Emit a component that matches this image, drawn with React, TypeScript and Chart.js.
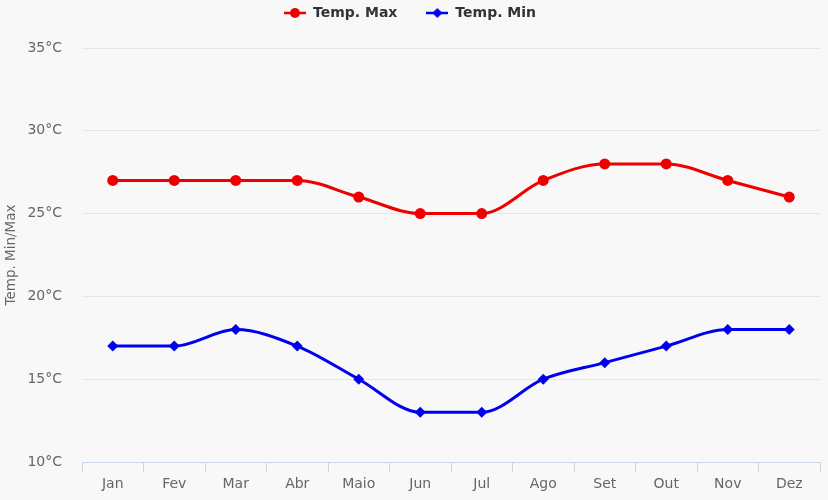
import React, { useEffect, useRef } from "react";
import { Chart, registerables } from "chart.js";

Chart.register(...registerables);

const months = ["Jan", "Fev", "Mar", "Abr", "Maio", "Jun", "Jul", "Ago", "Set", "Out", "Nov", "Dez"];
const tempMax = [27, 27, 27, 27, 26, 25, 25, 27, 28, 28, 27, 26];
const tempMin = [17, 17, 18, 17, 15, 13, 13, 15, 16, 17, 18, 18];
const yTicks = [10, 15, 20, 25, 30, 35];

const RED = "#ee0000";
const BLUE = "#0000ee";
const FONT = "'DejaVu Sans', sans-serif";

function legendIcon(color: string, style: "circle" | "diamond") {
  const c = document.createElement("canvas");
  c.width = 22;
  c.height = 12;
  const ctx = c.getContext("2d")!;
  ctx.strokeStyle = color;
  ctx.lineWidth = 2.5;
  ctx.beginPath();
  ctx.moveTo(0, 6);
  ctx.lineTo(22, 6);
  ctx.stroke();
  ctx.fillStyle = color;
  ctx.beginPath();
  if (style === "circle") {
    ctx.arc(11, 6, 5, 0, Math.PI * 2);
  } else {
    ctx.moveTo(11, 1);
    ctx.lineTo(16, 6);
    ctx.lineTo(11, 11);
    ctx.lineTo(6, 6);
    ctx.closePath();
  }
  ctx.fill();
  return c;
}

export default function App() {
  const ref = useRef<HTMLCanvasElement | null>(null);

  useEffect(() => {
    document.body.style.margin = "0";
    document.body.style.background = "#f8f8f8";
    const iconMax = legendIcon(RED, "circle");
    const iconMin = legendIcon(BLUE, "diamond");

    const legendPlugin = {
      id: "legendTweak",
      beforeInit(chart: any) {
        const legend = chart.legend;
        if (legend) {
          const orig = legend.fit;
          legend.fit = function () {
            orig.call(this);
            this.height = 48;
          };
        }
      },
      afterLayout(chart: any) {
        const legend = chart.legend;
        if (legend) {
          legend.top -= 23;
          legend.bottom -= 23;
        }
      },
    };

    const chart = new Chart(ref.current!, {
      type: "line",
      data: {
        labels: months,
        datasets: [
          {
            label: "Temp. Max",
            data: tempMax,
            borderColor: RED,
            backgroundColor: RED,
            borderWidth: 3,
            pointStyle: "circle",
            pointRadius: 5.5,
            pointBorderWidth: 0,
            cubicInterpolationMode: "monotone",
          },
          {
            label: "Temp. Min",
            data: tempMin,
            borderColor: BLUE,
            backgroundColor: BLUE,
            borderWidth: 3,
            pointStyle: "rectRot",
            pointRadius: 5.5,
            pointBorderWidth: 0,
            cubicInterpolationMode: "monotone",
          },
        ],
      },
      options: {
        responsive: false,
        animation: false,
        layout: { padding: { left: 0, right: 8, top: 0, bottom: 0 } },
        plugins: {
          tooltip: { enabled: false },
          legend: {
            position: "top",
            align: "center",
            labels: {
              usePointStyle: true,
              pointStyleWidth: 22,
              padding: 29,
              color: "#333333",
              font: { family: FONT, size: 14, weight: "bold" },
              generateLabels: (ch: any) =>
                ch.data.datasets.map((ds: any, i: number) => ({
                  text: ds.label,
                  fillStyle: ds.borderColor,
                  strokeStyle: ds.borderColor,
                  lineWidth: 0,
                  pointStyle: i === 0 ? iconMax : iconMin,
                  datasetIndex: i,
                  hidden: false,
                  fontColor: "#333333",
                })),
            },
          },
        },
        scales: {
          x: {
            offset: true,
            grid: {
              offset: true,
              drawOnChartArea: false,
              drawTicks: true,
              tickLength: 10,
              color: "#ccd6eb",
              lineWidth: 1,
            },
            border: { display: true, color: "#ccd6eb", width: 1 },
            ticks: {
              color: "#666666",
              padding: 4,
              font: { family: FONT, size: 14 },
              maxRotation: 0,
              autoSkip: false,
            },
            afterFit: (s: any) => {
              s.height = 38;
            },
          },
          y: {
            min: 10,
            max: 35,
            afterBuildTicks: (s: any) => {
              s.ticks = yTicks.map((v) => ({ value: v }));
            },
            grid: {
              color: "#e6e6e6",
              drawTicks: false,
              lineWidth: 1,
            },
            border: { display: false },
            ticks: {
              color: "#666666",
              padding: 20,
              font: { family: FONT, size: 14 },
              callback: (v: any) => `${v}°C`,
            },
            title: {
              display: true,
              text: "Temp. Min/Max",
              color: "#666666",
              font: { family: FONT, size: 13.5 },
              padding: { top: 3, bottom: 0 },
            },
            afterFit: (s: any) => {
              s.width = 82;
            },
          },
        },
      },
      plugins: [legendPlugin],
    });
    return () => chart.destroy();
  }, []);

  return (
    <div style={{ position: "absolute", left: 0, top: 0, width: 828, height: 500, background: "#f8f8f8" }}>
      <canvas ref={ref} width={828} height={500} style={{ display: "block" }} />
    </div>
  );
}
